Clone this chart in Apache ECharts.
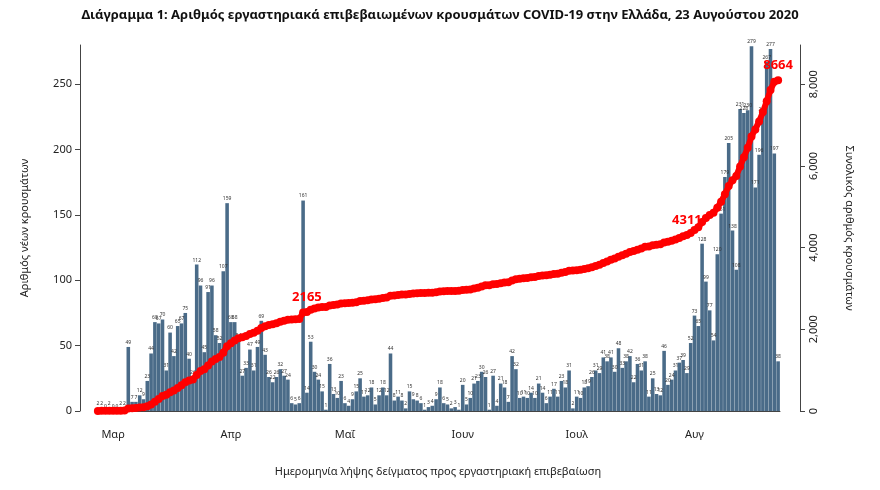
<!DOCTYPE html>
<html>
<head>
<meta charset="utf-8">
<script src="https://cdn.jsdelivr.net/npm/echarts@6/dist/echarts.min.js"></script>
<style>body{margin:0;background:#fff}#chart{width:880px;height:490px}</style>
</head>
<body>
<div id="chart"></div>
<script>
// daily new cases, last day = 23 Aug 2020
var newCases = [2,2,0,2,0,0,2,2,
  49,7,7,12,9,23,44,68,67,70,31,60,42,65,67,75,40,26,112,96,45,91,96,58,52,107,159,68,68,54,27,33,47,31,49,69,43,26,22,
  26,32,27,24,6,5,6,
  161,14,53,30,24,15,1,36,13,10,23,6,4,9,15,25,11,12,18,5,12,18,12,44,8,11,8,2,15,9,8,6,1,3,4,9,18,6,5,2,3,
  1,20,5,10,21,23,30,26,1,27,4,21,18,7,42,32,10,11,10,14,10,21,14,6,11,17,11,23,18,31,2,11,10,18,19,26,31,29,41,38,41,30,48,33,38,42,22,36,31,38,
  11,25,13,12,46,20,24,31,37,39,29,52,73,65,128,99,77,54,120,151,179,205,138,108,231,228,230,279,171,196,227,267,277,197,38];
var monthNames = ['Ιαν','Φεβ','Μαρ','Απρ','Μαΐ','Ιουν','Ιουλ','Αυγ'];
var annotations = [{index: 55, text: '2165'}, {index: 155, text: '4311'}, {index: newCases.length - 1, text: '8664'}];

var endDate = new Date(2020, 7, 23);
var dates = [];
for (var i = 0; i < newCases.length; i++) {
  var d = new Date(endDate);
  d.setDate(endDate.getDate() - (newCases.length - 1 - i));
  dates.push(d);
}
var categories = dates.map(function(d) { return (d.getMonth() + 1) + '-' + d.getDate(); });
var total = [];
var s = 0;
for (var i = 0; i < newCases.length; i++) { s += newCases[i]; total.push(s); }

var annoMap = {};
annotations.forEach(function(a) { annoMap[a.index] = a.text; });

var chart = echarts.init(document.getElementById('chart'));
chart.setOption({
  animation: false,
  textStyle: {fontFamily: 'Noto Sans'},
  title: {
    text: 'Διάγραμμα 1: Αριθμός εργαστηριακά επιβεβαιωμένων κρουσμάτων COVID-19 στην Ελλάδα, 23 Αυγούστου 2020',
    left: 'center', top: 4,
    textStyle: {fontSize: 13, fontWeight: 'bold', color: '#111'}
  },
  grid: {left: 96, right: 100, top: 45, bottom: 79},
  xAxis: {
    type: 'category', data: categories, offset: 10,
    name: 'Ημερομηνία λήψης δείγματος προς εργαστηριακή επιβεβαίωση',
    nameLocation: 'middle', nameGap: 45,
    nameTextStyle: {fontSize: 11, color: '#222'},
    axisLine: {lineStyle: {color: '#444'}},
    axisTick: {alignWithLabel: true, interval: function(i) { return dates[i].getDate() === 1; }},
    axisLabel: {interval: function(i) { return dates[i].getDate() === 1; },
      formatter: function(v, i) { return monthNames[dates[i].getMonth()]; },
      fontSize: 11, color: '#222'}
  },
  yAxis: [{
    type: 'value', min: 0, max: 280, interval: 50, offset: 16,
    name: 'Αριθμός νέων κρουσμάτων', nameLocation: 'middle', nameGap: 50,
    nameTextStyle: {fontSize: 11, color: '#222'},
    axisLine: {show: true, lineStyle: {color: '#444'}}, axisTick: {show: true},
    axisLabel: {showMaxLabel: false, fontSize: 11, color: '#222'},
    splitLine: {show: false}
  }, {
    type: 'value', min: 0, max: 8960, interval: 2000, offset: 20,
    name: 'Συνολικός αριθμός κρουσμάτων', nameLocation: 'middle', nameGap: 44, nameRotate: -90,
    nameTextStyle: {fontSize: 11, color: '#222'},
    axisLine: {show: true, lineStyle: {color: '#444'}}, axisTick: {show: true},
    axisLabel: {showMaxLabel: false, rotate: 90, fontSize: 11, color: '#222'},
    splitLine: {show: false}
  }],
  series: [{
    type: 'bar', data: newCases, barCategoryGap: '6%',
    itemStyle: {color: '#4a6b88'},
    label: {show: true, position: 'top', fontSize: 5, color: '#333', distance: 2}
  }, {
    type: 'line', yAxisIndex: 1, data: total,
    symbol: 'circle', symbolSize: 8, showAllSymbol: true,
    lineStyle: {color: '#ff0000', width: 6}, itemStyle: {color: '#ff0000'},
    label: {show: true, position: 'top', fontSize: 13, fontWeight: 'bold', color: '#ff0000', distance: 4,
      formatter: function(p) { return annoMap[p.dataIndex] || ''; }},
    z: 3
  }]
});
</script>
</body>
</html>
